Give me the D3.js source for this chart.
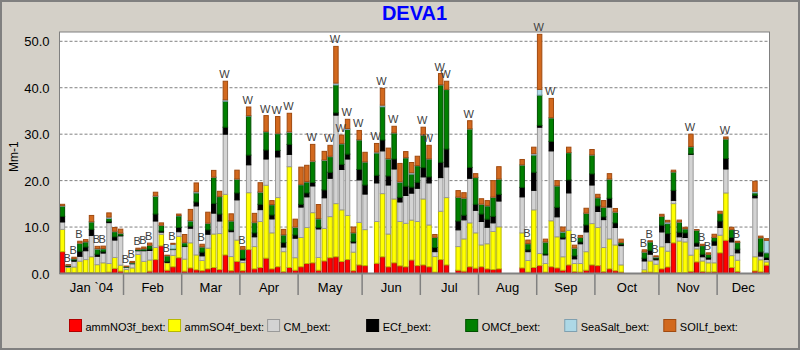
<!doctype html>
<html>
<head>
  <script src="https://d3js.org/d3.v7.min.js" charset="utf-8"></script>
  <style>
    body { margin: 0; background: #D4D0C8; }
    text { font-family: "Liberation Sans", Arial, sans-serif; }
  </style>
</head>
<body>
<div id="viz"></div>
<script>
// every third day sample, first one on 30 Dec 2003 (122 samples)
var nSamples = 122;
var firstSample = new Date(2003, 11, 30);
var monthNames = ["Jan `04", "Feb", "Mar", "Apr", "May", "Jun", "Jul", "Aug", "Sep", "Oct", "Nov", "Dec"];
var yTicks = [0, 10, 20, 30, 40, 50];

var seriesKeys = ["ammNO3f_bext", "ammSO4f_bext", "CM_bext", "ECf_bext", "OMCf_bext", "SeaSalt_bext", "SOILf_bext"];
var seriesColors = ["#FF0000", "#FFFF00", "#D3D3D3", "#000000", "#008000", "#ADD8E6", "#D2691E"];
var seriesBorders = ["#B00000", "#B8B800", "#999999", "#000000", "#005000", "#7FA0B0", "#A04A10"];

// values in Mm-1, null = no sample
var ammNO3 = [4.7,0.2,0.2,0.2,0.2,0.2,0.15,0.2,0.3,1.1, 0.5,0.1,0.1,0.1,0.1,0.5,3.0,5.95,0.7,1.45,
  3.4,0.5,1.2,0.8,0.6,1.0,1.3,0.85,4.0,0.6, 2.6,0.6,5.15,1.0,1.3,3.3,1.0,1.45,0.4,1.3,
  0.7,1.45,2.15,2.3,0.7,2.7,3.4,3.6,2.6,3.0, 0.6,1.85,1.7,null,2.2,3.6,1.45,2.3,1.65,1.45,
  2.9,1.7,1.85,1.45,0.3,3.0,1.85,null,0.7,0.5, 1.45,1.15,1.45,1.0,0.85,1.0,null,null,null,1.2,
  0.3,1.3,1.7,0.3,1.45,1.2,0.7,1.85,0.4,0.3, 0.7,1.85,1.7,0.4,1.0,0.6,0.3,null,null,null,
  0.3,0.3,0.2,1.0,1.4,6.6,0.2,0.2,0.45,2.5, 0.45,0.3,0.35,4.45,7.15,1.3,0.45,null,null,0.55,
  0.35,1.8];
var ammSO4 = [4.8,1.1,1.2,2.45,2.8,3.4,1.75,2.1,1.85,2.35, 1.3,0.75,1.1,4.0,2.5,2.4,2.6,2.5,1.6,2.45,
  4.6,2.6,5.4,3.2,2.2,4.45,7.2,7.75,13.05,3.05, 4.6,1.75,12.25,4.8,9.9,15.7,7.75,14.9,4.3,21.7,
  2.7,6.3,7.75,10.8,2.75,7.0,8.85,11.45,11.1,9.5, 4.0,9.15,7.75,null,9.0,13.6,7.05,13.75,9.55,9.35,
  8.6,9.5,14.2,9.0,3.35,10.4,14.5,null,5.1,6.95, 9.45,7.6,4.7,5.4,8.2,9.05,null,null,null,7.55,
  2.5,12.4,2.6,1.85,9.9,6.7,2.9,7.45,1.75,1.85, 4.0,8.9,8.2,5.2,6.45,5.55,1.55,null,null,null,
  0.5,2.4,1.8,4.75,3.4,8.45,6.8,6.6,3.5,2.8, 2.25,2.0,1.95,3.8,10.2,2.55,2.4,null,null,3.05,
  2.6,0.7];
var cm = [1.6,0.2,1.25,1.05,1.9,4.6,1.8,2.1,8.8,3.75, 6.3,0.45,0.9,0.8,2.3,2.05,5.7,0.45,0.1,1.25,
  1.0,2.7,3.15,10.55,1.0,3.0,4.5,2.7,12.95,5.35, 8.65,0.55,6.0,2.1,2.55,5.65,3.0,8.75,1.0,2.65,
  4.2,6.55,6.6,5.75,6.15,6.6,8.25,19.05,8.7,12.15, 2.0,9.15,7.65,null,8.3,9.2,10.55,6.45,4.2,6.0,
  5.8,7.15,4.75,9.05,1.05,7.25,6.6,null,3.6,4.1, 9.6,4.85,5.05,3.55,1.85,5.55,null,null,null,7.75,
  1.9,4.2,27.2,1.85,15.05,4.3,3.85,8.05,1.0,4.25, 4.25,8.3,3.45,6.0,6.85,3.75,4.15,null,null,null,
  1.9,1.45,0.95,3.2,1.85,0.7,0.9,0.95,21.7,0.6, 0.9,0.8,3.8,1.65,5.15,2.95,1.6,null,null,12.7,
  0.8,0.5];
var ec = [1.2,0.05,0.25,1.1,0.8,1.3,0.45,0.3,0.3,0.7, 0.15,0.05,0.05,0.05,0.1,0.3,1.5,0.25,0.2,0.05,
  0.9,0.1,0.45,0.85,0.8,0.95,2.1,1.5,1.5,0.35, 1.5,0.35,2.1,0.85,1.15,1.95,0.85,1.4,0.95,2.15,
  0.7,0.6,0.85,0.75,0.3,1.7,1.3,0.5,1.1,1.05, 0.3,2.25,1.95,null,1.65,2.35,1.95,2.15,1.0,2.0,
  1.3,1.3,2.0,1.3,0.9,3.3,3.85,null,1.9,1.0, 2.35,1.3,1.6,1.75,1.4,1.45,null,null,null,2.05,
  0.4,3.9,0.4,0.2,2.05,2.05,0.35,2.8,0.65,0.4, 1.5,2.4,1.2,0.6,1.9,1.0,0.3,null,null,null,
  0.6,0.85,0.35,1.45,1.95,2.15,1.0,1.0,0.1,0.7, 0.55,0.35,0.9,1.4,2.25,0.95,0.8,null,null,0.55,
  0.9,0.45];
var omc = [2.2,0.2,0.25,1.7,1.1,1.6,1.1,0.6,0.6,1.1, 0.35,0.1,0.15,0.2,0.3,0.8,3.8,1.2,1.2,0.1,
  2.5,0.7,1.1,1.95,1.1,1.4,5.6,3.75,5.6,1.95, 2.95,1.9,8.4,2.2,2.6,3.9,2.2,3.6,1.65,2.6,
  1.6,4.2,2.35,4.5,1.85,6.35,3.35,6.0,4.4,5.3, 1.85,6.35,4.95,null,4.8,7.15,3.65,5.6,3.25,6.1,
  2.8,3.55,7.0,3.85,2.15,16.65,12.8,null,5.1,3.65, 8.25,5.75,2.1,2.85,4.1,3.25,null,null,null,4.8,
  1.3,3.7,6.5,2.55,5.05,4.6,1.1,5.85,1.65,0.95, 2.5,4.05,1.75,2.05,4.1,2.3,0.35,null,null,null,
  1.3,1.8,0.2,1.9,2.15,3.95,2.15,0.85,1.5,2.7, 1.85,0.65,0.75,1.6,4.2,1.7,1.4,null,null,0.5,
  3.0,1.0];
var seaSalt = [0.1,0.05,0.05,0.05,0.05,0.05,0.1,0.1,0.3,0.1, 0.1,0.05,0.05,0.05,0.05,0.05,0.1,0.05,0.05,1.0,
  0.1,0.1,0.1,0.25,0.05,0.05,0.05,0.05,0.3,0.05, 0.05,0.05,0.1,0.1,0.05,0.1,0.05,0.1,0.05,0.1,
  0.1,0.1,0.1,0.1,0.1,0.1,0.1,0.4,0.1,0.2, 0.05,0.05,0.05,null,0.2,0.35,0.1,0.05,0.1,0.05,
  0.3,0.05,0.05,0.05,0.05,0.05,0.05,null,0.05,0.05, 0.05,0.05,0.05,0.05,0.05,0.05,null,null,null,0.05,
  0.05,0.3,1.25,0.05,0.05,0.05,0.2,0.05,0.05,0.05, 0.05,0.05,0.05,0.05,0.05,0.05,0.05,null,null,null,
  0.05,0.05,0.1,0.05,0.35,0.05,0.05,0.05,0.1,0.05, 0.05,0.05,0.05,0.05,0.05,0.05,0.05,null,null,0.35,
  0.05,2.7];
var soil = [0.3,0.1,0.3,0.4,0.45,1.35,0.5,0.5,0.9,0.8, 0.85,0.1,0.25,0.25,0.35,0.45,0.8,0.5,0.1,0.2,
  0.3,1.7,2.4,1.9,0.55,2.35,1.45,1.1,4.0,1.5, 1.9,0.6,1.85,1.9,2.0,3.4,0.85,3.6,1.15,4.0,
  1.7,3.7,3.5,3.6,3.0,1.85,2.35,7.9,1.8,2.0, 1.2,2.0,2.05,null,1.85,3.6,2.25,1.4,3.95,1.3,
  2.2,2.0,1.65,2.9,0.6,2.4,1.75,null,1.4,1.15, 1.75,0.8,1.15,1.1,3.55,2.65,null,null,null,1.15,
  0.75,1.4,11.85,0.6,4.15,1.1,0.9,1.15,0.6,0.4, 1.05,1.15,0.7,1.4,1.15,0.75,0.7,null,null,null,
  0.45,0.2,0.2,0.4,0.35,0.35,0.4,0.3,2.65,0.1, 0.25,0.3,0.65,0.45,0.4,0.45,0.25,null,null,2.15,
  0.35,0.35];

// best (B) and worst (W) days, by sample index
var bestDays = [1,2,3,6,7,11,12,13,14,15,18,19,24,31,80,88,100,101,102,110,111,116];
var worstDays = [28,32,35,37,39,43,46,47,48,49,51,54,55,57,62,63,65,66,70,82,84,108,114];

var allSeries = [ammNO3, ammSO4, cm, ec, omc, seaSalt, soil];

// build the table for d3.stack
var sampleDates = d3.range(nSamples).map(function(i) { return d3.timeDay.offset(firstSample, 3 * i); });
var table = sampleDates.map(function(d, i) {
  var row = { idx: i, date: d, missing: ammNO3[i] === null };
  seriesKeys.forEach(function(k, j) { row[k] = allSeries[j][i] || 0; });
  return row;
});

// plot area
var W = 800, H = 350;
var plotLeft = 59.5, plotRight = 769.5, plotTop = 32, plotBottom = 273.5;

var svg = d3.select("#viz").append("svg")
  .attr("width", W)
  .attr("height", H);

// window background and outer border
svg.append("rect").attr("x", 0).attr("y", 0).attr("width", W).attr("height", H).attr("fill", "#D4D0C8");
svg.append("rect").attr("x", 1).attr("y", 1).attr("width", W - 2).attr("height", H - 2)
  .attr("fill", "none").attr("stroke", "#808080").attr("stroke-width", 2);

// white plot area
svg.append("rect").attr("x", plotLeft).attr("y", plotTop)
  .attr("width", plotRight - plotLeft).attr("height", plotBottom - plotTop)
  .attr("fill", "#FFFFFF");

var x = d3.scaleBand()
  .domain(d3.range(nSamples))
  .range([plotLeft, plotRight])
  .paddingInner(0.24)
  .paddingOuter(0.12);

var y = d3.scaleLinear().domain([0, 52]).range([plotBottom, plotTop]);

// grid lines
svg.append("g").selectAll("line")
  .data(yTicks.filter(function(t) { return t > 0; }))
  .enter().append("line")
  .attr("x1", plotLeft).attr("x2", plotRight)
  .attr("y1", function(d) { return y(d); })
  .attr("y2", function(d) { return y(d); })
  .attr("stroke", "#808080")
  .attr("stroke-dasharray", "3,2");

// stacked bars
var stacked = d3.stack().keys(seriesKeys)(table.filter(function(r) { return !r.missing; }));
var layers = svg.append("g").selectAll("g")
  .data(stacked)
  .enter().append("g")
  .attr("fill", function(d, i) { return seriesColors[i]; })
  .attr("stroke", function(d, i) { return seriesBorders[i]; })
  .attr("stroke-width", 1);

layers.selectAll("rect")
  .data(function(d) { return d; })
  .enter().append("rect")
  .attr("x", function(d) { return x(d.data.idx); })
  .attr("width", x.bandwidth())
  .attr("y", function(d) { return y(d[1]); })
  .attr("height", function(d) { return Math.max(0, y(d[0]) - y(d[1])); });

// B / W flags above bars
function total(i) { return d3.sum(allSeries, function(s) { return s[i] || 0; }); }
var flags = bestDays.map(function(i) { return { i: i, t: "B" }; })
  .concat(worstDays.map(function(i) { return { i: i, t: "W" }; }));
svg.append("g").selectAll("text")
  .data(flags)
  .enter().append("text")
  .attr("x", function(d) { return x(d.i) + x.bandwidth() / 2 - 1; })
  .attr("y", function(d) { return y(total(d.i)) - 3; })
  .attr("text-anchor", "middle")
  .attr("font-size", "11px")
  .attr("fill", "#404040")
  .text(function(d) { return d.t; });

// plot frame
svg.append("rect").attr("x", plotLeft).attr("y", plotTop)
  .attr("width", plotRight - plotLeft).attr("height", plotBottom - plotTop)
  .attr("fill", "none").attr("stroke", "#808080").attr("stroke-width", 1);
svg.append("line").attr("x1", plotLeft).attr("x2", plotRight)
  .attr("y1", plotBottom).attr("y2", plotBottom)
  .attr("stroke", "#808080").attr("stroke-width", 2);

// y axis labels
svg.append("g").selectAll("text")
  .data(yTicks)
  .enter().append("text")
  .attr("x", 49.5)
  .attr("y", function(d) { return y(d) + 5; })
  .attr("text-anchor", "end")
  .attr("font-size", "13px")
  .attr("fill", "#000")
  .text(function(d) { return d3.format(".1f")(d); });

svg.append("text")
  .attr("transform", "translate(18," + ((plotTop + plotBottom) / 2 + 4) + ") rotate(-90)")
  .attr("text-anchor", "middle")
  .attr("font-size", "12px")
  .attr("fill", "#000")
  .text("Mm-1");

// month boundaries: first sample of each month from Feb on
var bounds = [plotLeft];
for (var m = 1; m < 12; m++) {
  var idx = d3.bisectLeft(sampleDates, new Date(2004, m, 1));
  bounds.push(x(idx) - x.step() * x.paddingInner() / 2);
}
bounds.push(plotRight);

svg.append("g").selectAll("line")
  .data(bounds.slice(1, 12))
  .enter().append("line")
  .attr("x1", function(d) { return d; }).attr("x2", function(d) { return d; })
  .attr("y1", plotBottom).attr("y2", 295)
  .attr("stroke", "#808080")
  .attr("stroke-width", 1.5);

svg.append("g").selectAll("text")
  .data(monthNames)
  .enter().append("text")
  .attr("x", function(d, i) { return (bounds[i] + bounds[i + 1]) / 2; })
  .attr("y", 292)
  .attr("text-anchor", "middle")
  .attr("font-size", "13px")
  .attr("fill", "#000")
  .text(function(d) { return d; });

// title
svg.append("text")
  .attr("x", (plotLeft + plotRight) / 2)
  .attr("y", 20)
  .attr("text-anchor", "middle")
  .attr("font-size", "20px")
  .attr("font-weight", "bold")
  .attr("fill", "#0000FF")
  .text("DEVA1");

// legend
var legend = svg.append("g").selectAll("g")
  .data(seriesKeys)
  .enter().append("g")
  .attr("transform", function(d, i) { return "translate(" + (69.5 + 99.05 * i) + ",319.5)"; });
legend.append("rect")
  .attr("width", 12).attr("height", 12)
  .attr("fill", function(d, i) { return seriesColors[i]; })
  .attr("stroke", function(d, i) { return seriesBorders[i]; });
legend.append("text")
  .attr("x", 16)
  .attr("y", 11)
  .attr("font-size", "11px")
  .attr("fill", "#000")
  .text(function(d) { return d + ":"; });
</script>
</body>
</html>
